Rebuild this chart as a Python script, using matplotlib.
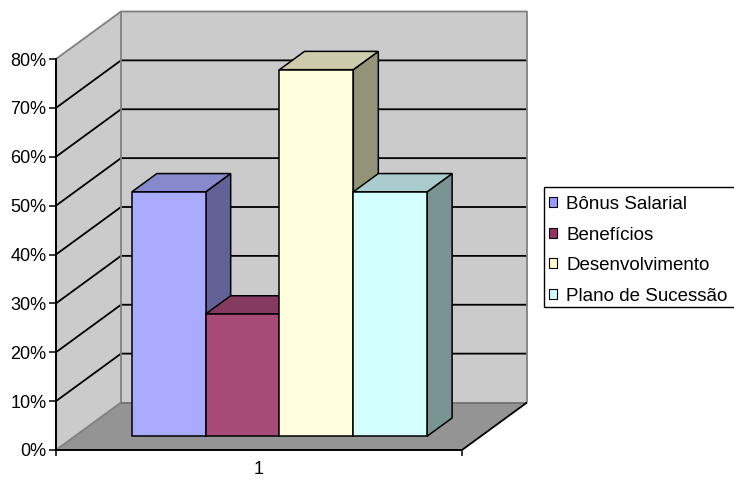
import matplotlib
matplotlib.use("Agg")
import matplotlib.pyplot as plt
from matplotlib.patches import Polygon, Patch, Rectangle
from matplotlib.ticker import FixedLocator, PercentFormatter

plt.rcParams['font.family'] = ['Liberation Sans', 'DejaVu Sans']

# data
category_labels = ["1"]
series_names = ["Bônus Salarial", "Benefícios", "Desenvolvimento", "Plano de Sucessão"]
values = [50, 25, 75, 50]  # percent
y_ticks = [0, 10, 20, 30, 40, 50, 60, 70, 80]

# colours (legend swatch, lit front, top, side)
base_colors = ["#9999FF", "#993366", "#FFFFCC", "#CCFFFF"]
front_colors = ["#AAAAFF", "#A84A78", "#FFFFDD", "#D4FFFF"]
top_colors = ["#8888CC", "#853A60", "#CCCCAA", "#AACCCC"]
side_colors = ["#626296", "#6A2E4C", "#939378", "#7A9494"]

WALL = "#CBCBCB"
FLOOR = "#949494"
EDGE = "#808080"

# layout in pixels (figure is 734x480)
W, H = 734, 480
FRONT_LEFT, FRONT_RIGHT = 56, 462
FRONT_BOTTOM, FRONT_TOP = 450, 59
DEPTH_PX = (65, 47.5)

fig = plt.figure(figsize=(W / 100, H / 100), dpi=100, facecolor="white")
ax = fig.add_axes([FRONT_LEFT / W, 1 - FRONT_BOTTOM / H,
                   (FRONT_RIGHT - FRONT_LEFT) / W, (FRONT_BOTTOM - FRONT_TOP) / H])
ax.set_xlim(0.5, 1.5)
ax.set_ylim(y_ticks[0], y_ticks[-1])
ax.patch.set_visible(False)

y_max = y_ticks[-1]
# depth offset expressed in data units
dx = DEPTH_PX[0] / (FRONT_RIGHT - FRONT_LEFT)
dy = DEPTH_PX[1] / (FRONT_BOTTOM - FRONT_TOP) * y_max


def proj(x, y, z):
    return (x + z * dx, y + z * dy)


def poly(points, **kw):
    ax.add_patch(Polygon([proj(*p) for p in points], closed=True, clip_on=False, **kw))


def line(points, **kw):
    xs, ys = zip(*[proj(*p) for p in points])
    ax.plot(xs, ys, clip_on=False, solid_capstyle="butt", **kw)


x0, x1 = 0.5, 1.5
# walls and floor
poly([(x0, 0, 0), (x0, y_max, 0), (x0, y_max, 1), (x0, 0, 1)], facecolor=WALL, edgecolor="none", zorder=0)
poly([(x0, 0, 1), (x1, 0, 1), (x1, y_max, 1), (x0, y_max, 1)], facecolor=WALL, edgecolor="none", zorder=0)
poly([(x0, 0, 0), (x1, 0, 0), (x1, 0, 1), (x0, 0, 1)], facecolor=FLOOR, edgecolor="none", zorder=0)

# gridlines
for t in y_ticks[1:-1]:
    line([(x0, t, 0), (x0, t, 1), (x1, t, 1)], color="black", lw=1.3, zorder=1)

# wall edges
line([(x0, y_max, 0), (x0, y_max, 1), (x1, y_max, 1), (x1, 0, 1)], color=EDGE, lw=1.3, zorder=1)
line([(x0, 0, 1), (x0, y_max, 1)], color=EDGE, lw=1.3, zorder=1)
line([(x0, 0, 0), (x0, 0, 1)], color=EDGE, lw=1.3, zorder=1)
line([(x0, 0, 1), (x1, 0, 1)], color="#6E6E6E", lw=1.2, zorder=1)
line([(x1, 0, 0), (x1, 0, 1)], color="black", lw=1.3, zorder=1)

# bars (gap width 150%)
n = len(values)
bw = 1.0 / (n + 1.5)
start = 0.5 + 0.75 * bw + 0.004
z0, z1 = 0.29, 0.675
for i, v in enumerate(values):
    a = start + i * bw
    b = a + bw
    zo = 3 + i * 0.1
    kw = dict(edgecolor="black", lw=1.1, joinstyle="miter")
    poly([(b, 0, z0), (b, v, z0), (b, v, z1), (b, 0, z1)], facecolor=side_colors[i], zorder=zo, **kw)
    poly([(a, v, z0), (b, v, z0), (b, v, z1), (a, v, z1)], facecolor=top_colors[i], zorder=zo, **kw)
    poly([(a, 0, z0), (b, 0, z0), (b, v, z0), (a, v, z0)], facecolor=front_colors[i], zorder=zo, **kw)

# axes
for s in ("top", "right"):
    ax.spines[s].set_visible(False)
for s in ("left", "bottom"):
    ax.spines[s].set_linewidth(1.4)
    ax.spines[s].set_zorder(2)
ax.yaxis.set_major_locator(FixedLocator(y_ticks))
ax.yaxis.set_major_formatter(PercentFormatter(decimals=0))
ax.tick_params(axis="y", direction="out", length=5, width=1.1, pad=2, labelsize=13)
ax.xaxis.set_major_locator(FixedLocator([0.5, 1.5]))
ax.xaxis.set_major_formatter(plt.NullFormatter())
ax.tick_params(axis="x", which="major", direction="out", length=4.5, width=1.1)
ax.xaxis.set_minor_locator(FixedLocator([1.0]))
ax.set_xticks([1.0], category_labels, minor=True)
ax.tick_params(axis="x", which="minor", length=0, pad=8, labelsize=13)

# legend
fig.patches.append(Rectangle((544 / W, 1 - 307 / H), 200 / W, 120 / H, transform=fig.transFigure,
                             facecolor="white", edgecolor="black", lw=1.0, zorder=0))
handles = [Patch(facecolor=c, edgecolor="black", lw=0.8) for c in base_colors]
fig.legend(handles=handles, labels=series_names, loc="upper left",
           bbox_to_anchor=(544 / W, 1 - 191 / H), frameon=False, fontsize=13.5,
           handlelength=0.43, handleheight=0.43, handletextpad=0.5,
           labelspacing=0.72, borderpad=0.27, borderaxespad=0)

fig.savefig("out.png", dpi=100)
